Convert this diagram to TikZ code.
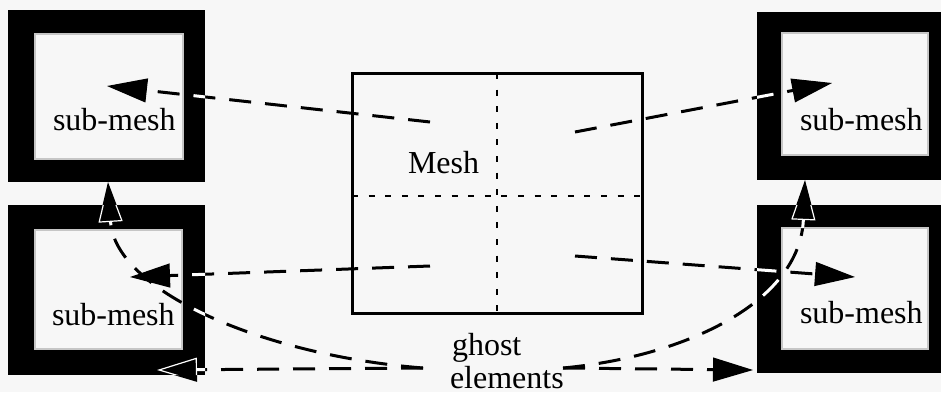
\documentclass[tikz,border=0pt]{standalone}
\usepackage{fontspec}
\setmainfont{Liberation Serif}
\usetikzlibrary{arrows.meta}
\definecolor{paper}{RGB}{247,247,247}

\tikzset{
  frameout/.style={fill=black, draw=none, inner sep=0pt, outer sep=0pt},
  framein/.style={fill=paper, draw=gray!45, line width=0.7pt, inner sep=0pt, outer sep=0pt},
  txt/.style={anchor=base west, inner sep=0pt, outer sep=0pt, font=\fontsize{16}{16.5}\selectfont},
  meshbox/.style={draw, line width=1.5pt, inner sep=0pt, outer sep=0pt,
                  minimum width=145pt, minimum height=120pt},
  divider/.style={line width=1pt, dash pattern=on 3pt off 5.3pt},
  link/.style={draw, line width=1.5pt, dash pattern=on 11pt off 7pt,
               -{Triangle[length=20pt, width=12pt, fill=black, line width=0.6pt]}},
}

% all dashed connectors; drawn twice (black, then white over the dark frames)
\newcommand\meshlinks{%
  \draw[link] (q1) -- (t1);
  \draw[link] (q2) -- (t2);
  \draw[link] (q3) -- (t3);
  \draw[link] (q4) -- (t4);
  \draw[link] (gl) .. controls (260,355) and (115,290) .. (u1);
  \draw[link] (gr) .. controls (690,356) and (800,300) .. (u2);
  \draw[link] (gl) -- (h1);
  \draw[link] (gr) -- (h2);
}

\begin{document}
\begin{tikzpicture}[x=0.5pt, y=-0.5pt]
  \useasboundingbox (0,0) rectangle (941,392);
  \fill[paper] (0,0) rectangle (941,392);

  % sub-mesh frames
  \node[frameout, minimum width=98.5pt, minimum height=86pt] (tlout) at (106.5,96) {};
  \node[framein,  minimum width=74pt,   minimum height=62.5pt] (tlin) at (109,96.5) {};
  \node[frameout, minimum width=98.5pt, minimum height=85pt] (blout) at (106.5,290) {};
  \node[framein,  minimum width=73.5pt, minimum height=59.5pt] (blin) at (108.5,289.5) {};
  \node[frameout, minimum width=99pt,   minimum height=84pt] (trout) at (856,96) {};
  \node[framein,  minimum width=73pt,   minimum height=61pt] (trin) at (855,94) {};
  \node[frameout, minimum width=99pt,   minimum height=84pt] (brout) at (856,289) {};
  \node[framein,  minimum width=73pt,   minimum height=60.5pt] (brin) at (855,288.5) {};

  \node[txt] (tltext) at (53,130) {sub-mesh};
  \node[txt] (bltext) at (52,325) {sub-mesh};
  \node[txt] (trtext) at (800,130) {sub-mesh};
  \node[txt] (brtext) at (800,323) {sub-mesh};

  % the whole mesh, split into four parts
  \node[meshbox] (mesh) at (497,193) {};
  \coordinate (split) at (497,196);
  \draw[divider] (mesh.north) -- (mesh.south);
  \draw[divider] (mesh.west |- split) -- (mesh.east |- split);
  \node[txt] (meshtext) at (408,173) {Mesh};

  \node[txt] (ghost) at (452,355) {ghost};
  \node[txt] (elements) at (450,388) {elements};

  % connector ends
  \coordinate (q1) at (430,122);  \coordinate (t1) at (107,86);
  \coordinate (q2) at (430,266);  \coordinate (t2) at (130,277);
  \coordinate (q3) at (575,132);  \coordinate (t3) at (832,83);
  \coordinate (q4) at (575,256);  \coordinate (t4) at (855,277);
  \coordinate (gl) at (423,368);  \coordinate (gr) at (563,368);
  \coordinate (u1) at (108,182);  \coordinate (u2) at (805,180);
  \coordinate (h1) at (157,370);  \coordinate (h2) at (753,370);

  \meshlinks

  % where the connectors cross the dark frames they show white
  \begin{scope}[color=white]
    \clip \foreach \f in {tl,bl,tr,br} {
      (\f out.north west) rectangle (\f out.east |- \f in.north)
      (\f out.west |- \f in.south) rectangle (\f out.south east)
      (\f out.north west) rectangle (\f in.west |- \f out.south)
      (\f in.east |- \f out.north) rectangle (\f out.south east)
    };
    \meshlinks
  \end{scope}
\end{tikzpicture}
\end{document}
